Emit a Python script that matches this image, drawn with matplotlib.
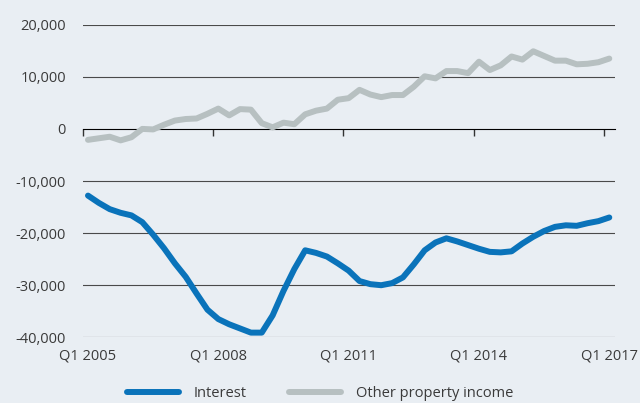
import matplotlib.pyplot as plt
from matplotlib.ticker import FuncFormatter

# quarterly, Q1 2005 .. Q1 2017
interest = [-12800, -14200, -15400, -16100, -16600, -17900, -20300, -22900, -25800, -28400,
            -31600, -34700, -36500, -37500, -38300, -39100, -39100, -35800, -31100, -26900,
            -23300, -23800, -24500, -25800, -27200, -29200, -29800, -30000, -29600, -28500,
            -26000, -23300, -21800, -21000, -21600, -22300, -23000, -23600, -23700, -23500,
            -22000, -20700, -19600, -18800, -18500, -18600, -18100, -17700, -17000]
other = [-2100, -1800, -1500, -2200, -1600, 0, -100, 800, 1600, 1900,
         2000, 2900, 3900, 2600, 3800, 3700, 1100, 300, 1200, 900,
         2800, 3500, 3900, 5600, 5900, 7500, 6600, 6100, 6500, 6500,
         8100, 10100, 9700, 11100, 11100, 10700, 12900, 11300, 12200, 13900,
         13300, 14900, 14000, 13100, 13100, 12400, 12500, 12800, 13500]
xlabels = ['Q1 2005', 'Q1 2008', 'Q1 2011', 'Q1 2014', 'Q1 2017']

bg = '#e9eef3'
txt = '#3a3a3a'
plt.rcParams['font.family'] = ['Open Sans', 'DejaVu Sans']

fig = plt.figure(figsize=(6.4, 4.03), dpi=100, facecolor=bg)
ax = fig.add_axes([0.129, 0.163, 0.8315, 0.7757], facecolor=bg)

x = [i + 0.5 for i in range(len(interest))]
ax.plot(x, interest, color='#0a73ba', lw=4.3, solid_capstyle='round', label='Interest')
ax.plot(x, other, color='#b7c0c1', lw=4.3, solid_capstyle='round', label='Other property income')

ax.set_xlim(0, len(interest))
ax.set_ylim(-40000, 20000)
ax.set_yticks(range(-40000, 20001, 10000))
ax.yaxis.set_major_formatter(FuncFormatter(lambda v, p: f'{int(v):,}'))
for v in range(-40000, 20001, 10000):
    if v != 0:
        ax.axhline(v, color='#4a4a4a', lw=0.8, zorder=0)

ax.set_xticks([i * 12 + 0.5 for i in range(len(xlabels))])
ax.set_xticklabels(xlabels)
ax.tick_params(axis='both', length=0, labelsize=10.5, colors=txt)
ax.tick_params(axis='y', pad=12)
ax.tick_params(axis='x', pad=8)
for s in ax.spines.values():
    s.set_visible(False)

# zero line with category tick marks
sec = ax.secondary_xaxis(2 / 3)
sec.set_xticks([i * 12 for i in range(len(xlabels))])
sec.set_xticklabels([])
sec.tick_params(direction='in', length=5, width=1, color='#333333')
sec.spines['bottom'].set_color('#333333')
sec.spines['bottom'].set_linewidth(1.1)

fig.legend(loc='lower center', bbox_to_anchor=(0.5, -0.028), ncol=2, frameon=False,
           handlelength=3.6, handletextpad=1.0, columnspacing=2.9,
           fontsize=10.5, labelcolor=txt)

fig.savefig('out.png', dpi=100, facecolor=bg)
